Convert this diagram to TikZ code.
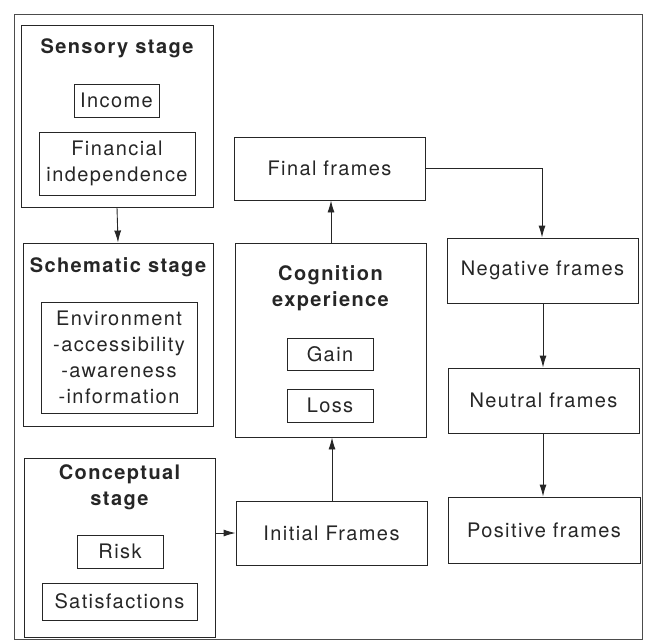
\documentclass[tikz,border=0pt]{standalone}
\usepackage{fontspec}
\setmainfont{TeX Gyre Heros}[LetterSpace=7]
\usetikzlibrary{arrows.meta}
\begin{document}
\begin{tikzpicture}[x=1pt,y=-1pt,
  line width=0.9pt, draw=black!85,
  every node/.style={font=\fontsize{20}{26}\selectfont, text=black!85},
  bx/.style={draw, inner sep=0pt, align=center},
  ttl/.style={font=\fontsize{20}{26}\selectfont\bfseries, align=center, inner sep=0pt},
  arr/.style={-{Latex[length=12pt,width=7pt]}, line width=0.9pt, draw=black!85}]
\useasboundingbox (0,0) rectangle (647,641);
\draw[black!70] (14,14) rectangle (642,639);
% left column
\node[bx, minimum width=192pt, minimum height=182pt] (sens) at (117,116) {};
\node[ttl] (senst) at (117,48) {Sensory stage};
\node[bx, minimum width=85pt, minimum height=33pt] (inc) at (116.5,100.5) {Income};
\node[bx, minimum width=156pt, minimum height=63pt] (fin) at (117,163.5) {Financial\\independence};
\node[bx, minimum width=190pt, minimum height=183pt] (sche) at (118,334.5) {};
\node[ttl] (schet) at (118,267) {Schematic stage};
\node[bx, minimum width=156pt, minimum height=111pt] (env) at (119,357.5) {Environment\\-accessibility\\-awareness\\-information};
\node[bx, minimum width=191pt, minimum height=179pt] (conc) at (119.5,547.5) {};
\node[ttl] (conct) at (119.5,487.5) {Conceptual\\stage};
\node[bx, minimum width=86pt, minimum height=33pt] (risk) at (120,551.5) {Risk};
\node[bx, minimum width=155pt, minimum height=37pt] (sat) at (119.5,601.5) {Satisfactions};
% middle column
\node[bx, minimum width=191pt, minimum height=63pt] (fin2) at (329.5,168.5) {Final frames};
\node[bx, minimum width=191pt, minimum height=194pt] (cog) at (330.5,340) {};
\node[ttl] (cogt) at (330.5,288.5) {Cognition\\experience};
\node[bx, minimum width=86pt, minimum height=32pt] (gain) at (330,354) {Gain};
\node[bx, minimum width=86pt, minimum height=33pt] (loss) at (330,405.5) {Loss};
\node[bx, minimum width=191pt, minimum height=64pt] (init) at (331.5,533) {Initial Frames};
% right column
\node[bx, minimum width=191pt, minimum height=65pt] (neg) at (542.5,270.5) {Negative frames};
\node[bx, minimum width=191pt, minimum height=65pt] (neu) at (543.5,400.5) {Neutral frames};
\node[bx, minimum width=192pt, minimum height=66pt] (pos) at (544,530) {Positive frames};
% connectors
\draw[arr] (sens.south) -- (sche.north);
\draw[arr] (conc.east |- init.west) -- (init.west);
\draw[arr] (init.north -| 332,0) -- (cog.south -| 332,0);
\draw[arr] (cog.north -| 331,0) -- (fin2.south -| 331,0);
\draw[arr] (fin2.east) -| (neg.north -| 542,0);
\draw[arr] (neg.south -| 543,0) -- (neu.north -| 543,0);
\draw[arr] (neu.south -| 543,0) -- (pos.north -| 543,0);
\end{tikzpicture}
\end{document}
